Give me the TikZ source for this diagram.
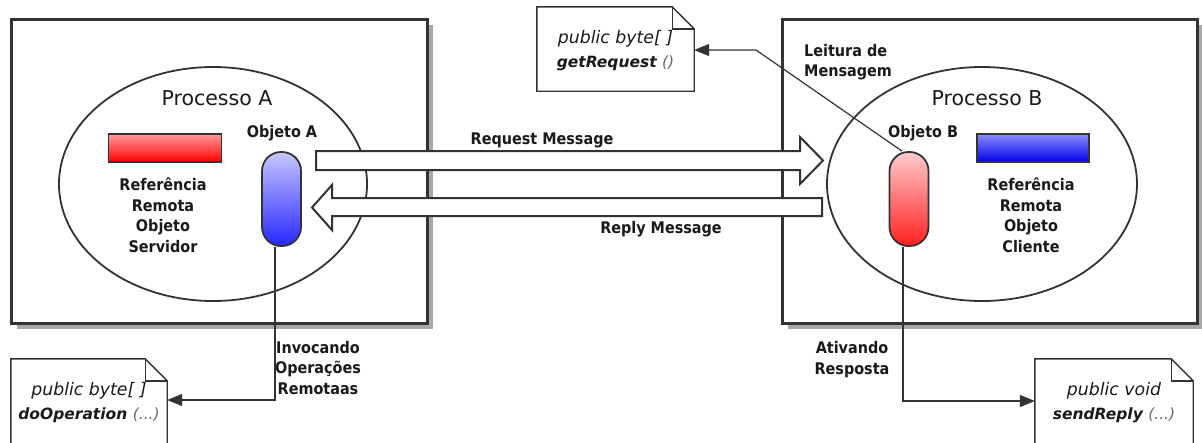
\documentclass[tikz,border=0pt]{standalone}
\usepackage{fontspec}
\setmainfont{DejaVu Sans}
\newfontfamily\condfont{DejaVu Sans Condensed}
\usetikzlibrary{shapes.geometric,shadows,arrows.meta}

\definecolor{ink}{HTML}{1A1A1A}
\definecolor{edge}{HTML}{333333}
\definecolor{shade}{HTML}{A8A8A8}
\definecolor{dim}{HTML}{6A6A6A}

\tikzset{
  hostbox/.style={draw=edge, line width=3pt, fill=white,
    drop shadow={shadow xshift=6pt, shadow yshift=-6pt, fill=shade, opacity=1}},
  procshape/.style={ellipse, draw=edge, line width=1.8pt, fill=white, inner sep=0pt},
  lbl/.style={text=ink, font=\condfont\bfseries\fontsize{16}{20.5}\selectfont, align=center, inner sep=0pt},
  title/.style={text=ink, font=\fontsize{20.5}{24}\selectfont, inner sep=0pt},
  refbar/.style={draw=edge, line width=1.6pt, minimum width=113pt, minimum height=28pt, inner sep=0pt},
  capsule/.style={draw=edge, line width=1.8pt, rounded corners=19pt, minimum width=39pt,
    minimum height=94pt, inner sep=0pt},
  blockarrow/.style={draw=edge, line width=2pt, fill=white, line join=miter},
  noteline/.style={draw=edge, line width=1.4pt, fill=white},
  notetext/.style={text=ink, align=center, inner sep=0pt, font=\fontsize{17.3}{24}\selectfont},
  link/.style={draw=edge, line width=1.2pt},
  linktip/.style={link, -{Triangle[length=15pt, width=12pt]}},
}

% outline of a UML note with a folded corner, around a named node
\newcommand\drawnote[1]{%
  \path[noteline] (#1.south west) -- (#1.north west) -- ([xshift=-22pt]#1.north east)
    -- ([yshift=-22pt]#1.north east) -- (#1.south east) -- cycle;
  \draw[edge, line width=1.4pt] ([xshift=-22pt]#1.north east) |- ([yshift=-22pt]#1.north east);
}

\begin{document}
\begin{tikzpicture}[x=1pt, y=-1pt]
\useasboundingbox (0,0) rectangle (1202,442);
\clip (0,0) rectangle (1202,442);

% host machines
\node[hostbox, minimum width=416pt, minimum height=304pt] (hostA) at (219,171) {};
\node[hostbox, minimum width=415pt, minimum height=304pt] (hostB) at (989.5,171) {};

% processes
\node[procshape, minimum width=308pt, minimum height=234pt] (procA) at (213,184) {};
\node[procshape, minimum width=310pt, minimum height=234pt] (procB) at (982,184) {};
\node[title] (titA) at (217,98) {Processo A};
\node[title] (titB) at (987,98) {Processo B};

% remote references
\node[refbar, top color=red!40, bottom color=red] (barA) at (165,148) {};
\node[refbar, minimum width=112pt, top color=blue!45, bottom color=blue!90!black] (barB) at (1033,148) {};
\node[lbl] (refA) at (163,215) {Referência\\Remota\\Objeto\\Servidor};
\node[lbl] (refB) at (1031,215) {Referência\\Remota\\Objeto\\Cliente};

% objects
\node[lbl] (labA) at (282,133) {Objeto A};
\node[lbl] (labB) at (923,133) {Objeto B};
\node[capsule, top color=blue!22, bottom color=blue!85] (objA) at (281.5,199) {};
\node[capsule, top color=red!20, bottom color=red!88] (objB) at (909,199) {};

% message arrows
\path[blockarrow] (316,151) -- (800,151) -- (800,137) -- (823,160.5) -- (800,184)
  -- (800,170) -- (316,170) -- cycle;
\path[blockarrow] (822,198) -- (332,198) -- (332,185) -- (312,207.5) -- (332,230)
  -- (332,216) -- (822,216) -- cycle;
\node[lbl] (reqL) at (542,140) {Request Message};
\node[lbl] (repL) at (661,229) {Reply Message};

% notes
\node[notetext, minimum width=157pt, minimum height=84pt] (getReq) at (615.5,49) {};
\drawnote{getReq}
\node[notetext] (getReqT) at (615.5,51)
  {\itshape public byte[ ]\\
   \fontsize{15.5}{24}\selectfont\bfseries\itshape getRequest
   {\mdseries\color{dim}()}};
\node[notetext, minimum width=156pt, minimum height=88pt] (doOp) at (89,403) {};
\drawnote{doOp}
\node[notetext] (doOpT) at (doOp)
  {\itshape public byte[ ]\\
   \fontsize{15.5}{24}\selectfont\bfseries\itshape doOperation
   {\mdseries\color{dim}(...)}};
\node[notetext, minimum width=158pt, minimum height=88pt] (sendRep) at (1114,403) {};
\drawnote{sendRep}
\node[notetext] (sendRepT) at (sendRep)
  {\itshape public void\\
   \fontsize{15.5}{24}\selectfont\bfseries\itshape sendReply
   {\mdseries\color{dim}(...)}};

% links to the notes
\coordinate (bendC) at (756,50);
\draw[linktip] ([xshift=-7pt]objB.north) -- (bendC) -- (getReq.east |- bendC);
\coordinate (bendA) at (275,400);
\draw[linktip] ([xshift=-6.5pt]objA.south) -- (bendA) -- (doOp.east |- bendA);
\coordinate (bendB) at (903,401);
\draw[linktip] ([xshift=-6pt]objB.south) -- (bendB) -- (sendRep.west |- bendB);

% link labels
\node[lbl, align=left, anchor=west] (readL) at (804,62) {Leitura de\\Mensagem};
\node[lbl] (invL) at (318,368) {Invocando\\Operações\\Remotaas};
\node[lbl] (actL) at (852,359.5) {Ativando\\Resposta};
\end{tikzpicture}
\end{document}
